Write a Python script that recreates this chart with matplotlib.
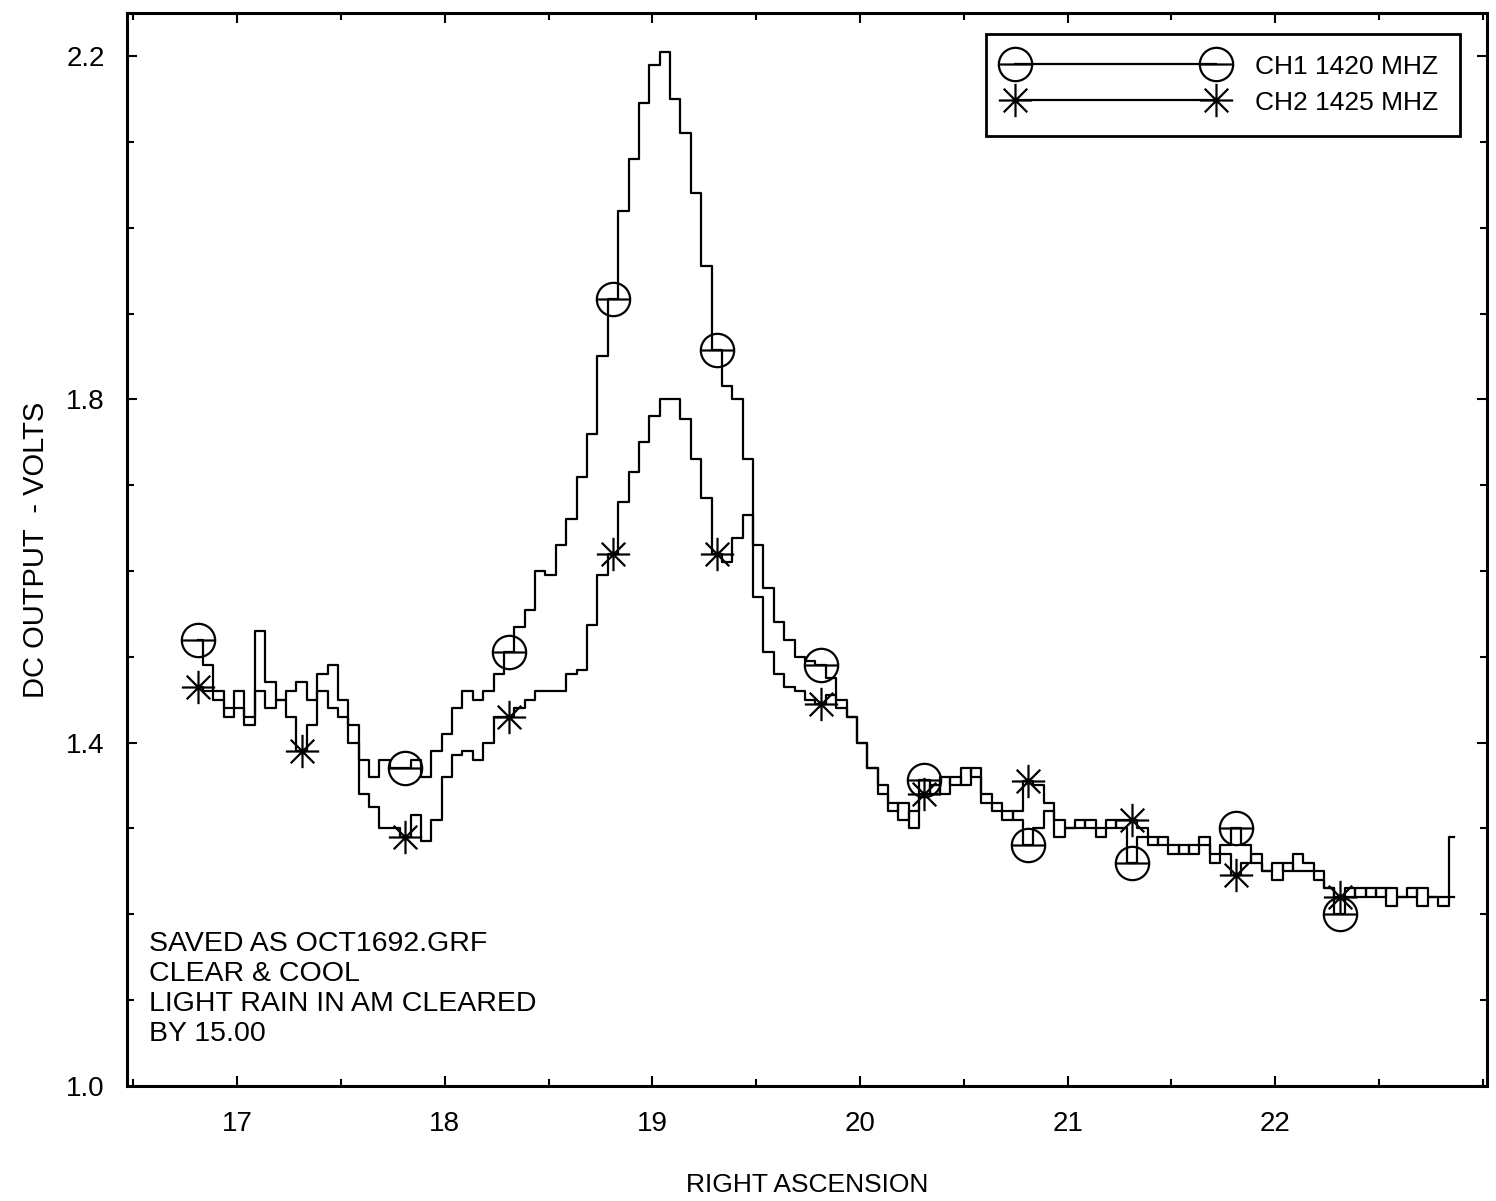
import numpy as np
import matplotlib
matplotlib.use('Agg')
import matplotlib.pyplot as plt
from matplotlib.path import Path
from matplotlib.ticker import MultipleLocator

plt.rcParams['font.family'] = ['Liberation Sans Narrow', 'Liberation Sans', 'DejaVu Sans']

# right ascension sample times (hours), one reading every 0.05 h
ra = np.round(16.81 + 0.05 * np.arange(122), 2)

# CH1 1420 MHz, volts
ch1 = [1.52, 1.49, 1.46, 1.44, 1.46, 1.43, 1.53, 1.47, 1.45, 1.46,
       1.47, 1.45, 1.48, 1.49, 1.45, 1.42, 1.38, 1.36, 1.38, 1.37,
       1.37, 1.38, 1.36, 1.39, 1.41, 1.44, 1.46, 1.45, 1.46, 1.48,
       1.505, 1.535, 1.555, 1.60, 1.595, 1.63, 1.66, 1.71, 1.76, 1.85,
       1.917, 2.02, 2.08, 2.145, 2.19, 2.205, 2.15, 2.11, 2.04, 1.955,
       1.858, 1.815, 1.80, 1.73, 1.63, 1.58, 1.54, 1.52, 1.50, 1.495,
       1.49, 1.475, 1.45, 1.43, 1.40, 1.37, 1.34, 1.33, 1.31, 1.32,
       1.356, 1.34, 1.36, 1.35, 1.37, 1.36, 1.33, 1.32, 1.32, 1.31,
       1.28, 1.30, 1.32, 1.29, 1.30, 1.31, 1.30, 1.30, 1.31, 1.30,
       1.26, 1.29, 1.29, 1.28, 1.27, 1.28, 1.27, 1.29, 1.27, 1.28,
       1.30, 1.28, 1.26, 1.25, 1.26, 1.25, 1.27, 1.26, 1.25, 1.23,
       1.20, 1.23, 1.22, 1.23, 1.22, 1.23, 1.22, 1.23, 1.21, 1.22, 1.22, 1.29]

# CH2 1425 MHz, volts
ch2 = [1.465, 1.46, 1.45, 1.43, 1.44, 1.42, 1.46, 1.44, 1.45, 1.43,
       1.39, 1.42, 1.46, 1.44, 1.43, 1.40, 1.34, 1.325, 1.30, 1.30,
       1.29, 1.315, 1.285, 1.31, 1.36, 1.385, 1.39, 1.38, 1.40, 1.43,
       1.43, 1.44, 1.45, 1.46, 1.46, 1.46, 1.48, 1.485, 1.537, 1.595,
       1.62, 1.68, 1.715, 1.75, 1.78, 1.80, 1.80, 1.777, 1.73, 1.685,
       1.62, 1.61, 1.638, 1.665, 1.57, 1.506, 1.48, 1.465, 1.46, 1.45,
       1.445, 1.455, 1.44, 1.43, 1.40, 1.37, 1.35, 1.32, 1.33, 1.30,
       1.34, 1.35, 1.34, 1.36, 1.35, 1.37, 1.34, 1.33, 1.31, 1.32,
       1.355, 1.35, 1.33, 1.31, 1.30, 1.30, 1.31, 1.29, 1.30, 1.31,
       1.31, 1.30, 1.28, 1.29, 1.28, 1.27, 1.28, 1.28, 1.26, 1.27,
       1.245, 1.26, 1.27, 1.25, 1.24, 1.26, 1.25, 1.25, 1.24, 1.23,
       1.22, 1.22, 1.23, 1.22, 1.23, 1.21, 1.22, 1.22, 1.23, 1.22, 1.21, 1.22]

labels = ['CH1 1420 MHZ', 'CH2 1425 MHZ']
notes = 'SAVED AS OCT1692.GRF\nCLEAR & COOL\nLIGHT RAIN IN AM CLEARED\nBY 15.00'

# circle with a bar through it, and an eight-spoke asterisk
theta = Path.make_compound_path(Path.unit_circle(),
                                Path([[-1, 0], [1, 0]], [Path.MOVETO, Path.LINETO]))
d = 0.707
star = Path([[-1, 0], [1, 0], [0, -1], [0, 1], [-d, -d], [d, d], [-d, d], [d, -d]],
            [Path.MOVETO, Path.LINETO] * 4)

fig = plt.figure(figsize=(14.96, 12.01), dpi=100)
ax = fig.add_axes([0.085, 0.096, 0.909, 0.893])

ax.plot(ra, ch1, drawstyle='steps-mid', color='black', lw=1.6,
        marker=theta, ms=24, mfc='none', mec='black', mew=1.6,
        markevery=[0, 20, 30, 40, 50, 60, 70, 80, 90, 100, 110], label=labels[0])
ax.plot(ra, ch2, drawstyle='steps-mid', color='black', lw=1.6,
        marker=star, ms=24, mfc='none', mec='black', mew=1.6,
        markevery=slice(0, 111, 10), label=labels[1])

ax.set_xlim(16.47, 23.02)
ax.set_ylim(1.0, 2.25)
ax.set_xticks([17, 18, 19, 20, 21, 22])
ax.set_yticks([1.0, 1.4, 1.8, 2.2])
ax.set_yticklabels(['1.0', '1.4', '1.8', '2.2'])
ax.xaxis.set_minor_locator(MultipleLocator(0.5))
ax.yaxis.set_minor_locator(MultipleLocator(0.1))
ax.tick_params(which='both', direction='in', top=True, right=True, width=1.5)
ax.tick_params(which='major', length=7, labelsize=20)
ax.tick_params(which='minor', length=5)
ax.tick_params(axis='x', pad=18)
ax.tick_params(axis='y', pad=16)
for s in ax.spines.values():
    s.set_linewidth(2.2)

ax.set_xlabel('RIGHT ASCENSION', fontsize=19, labelpad=26)
ax.set_ylabel('DC OUTPUT  - VOLTS', fontsize=21, labelpad=12)

ax.text(0.016, 0.1445, notes, transform=ax.transAxes, fontsize=20.5,
        va='top', ha='left', linespacing=1.2)

leg = ax.legend(loc='upper right', bbox_to_anchor=(0.980, 0.981), borderaxespad=0,
                fontsize=19, numpoints=2, handlelength=8.2, handletextpad=1.2,
                labelspacing=0.45, borderpad=0.8, fancybox=False, framealpha=1,
                edgecolor='black')
leg.get_frame().set_linewidth(2.0)

fig.savefig('out.png', dpi=100)
